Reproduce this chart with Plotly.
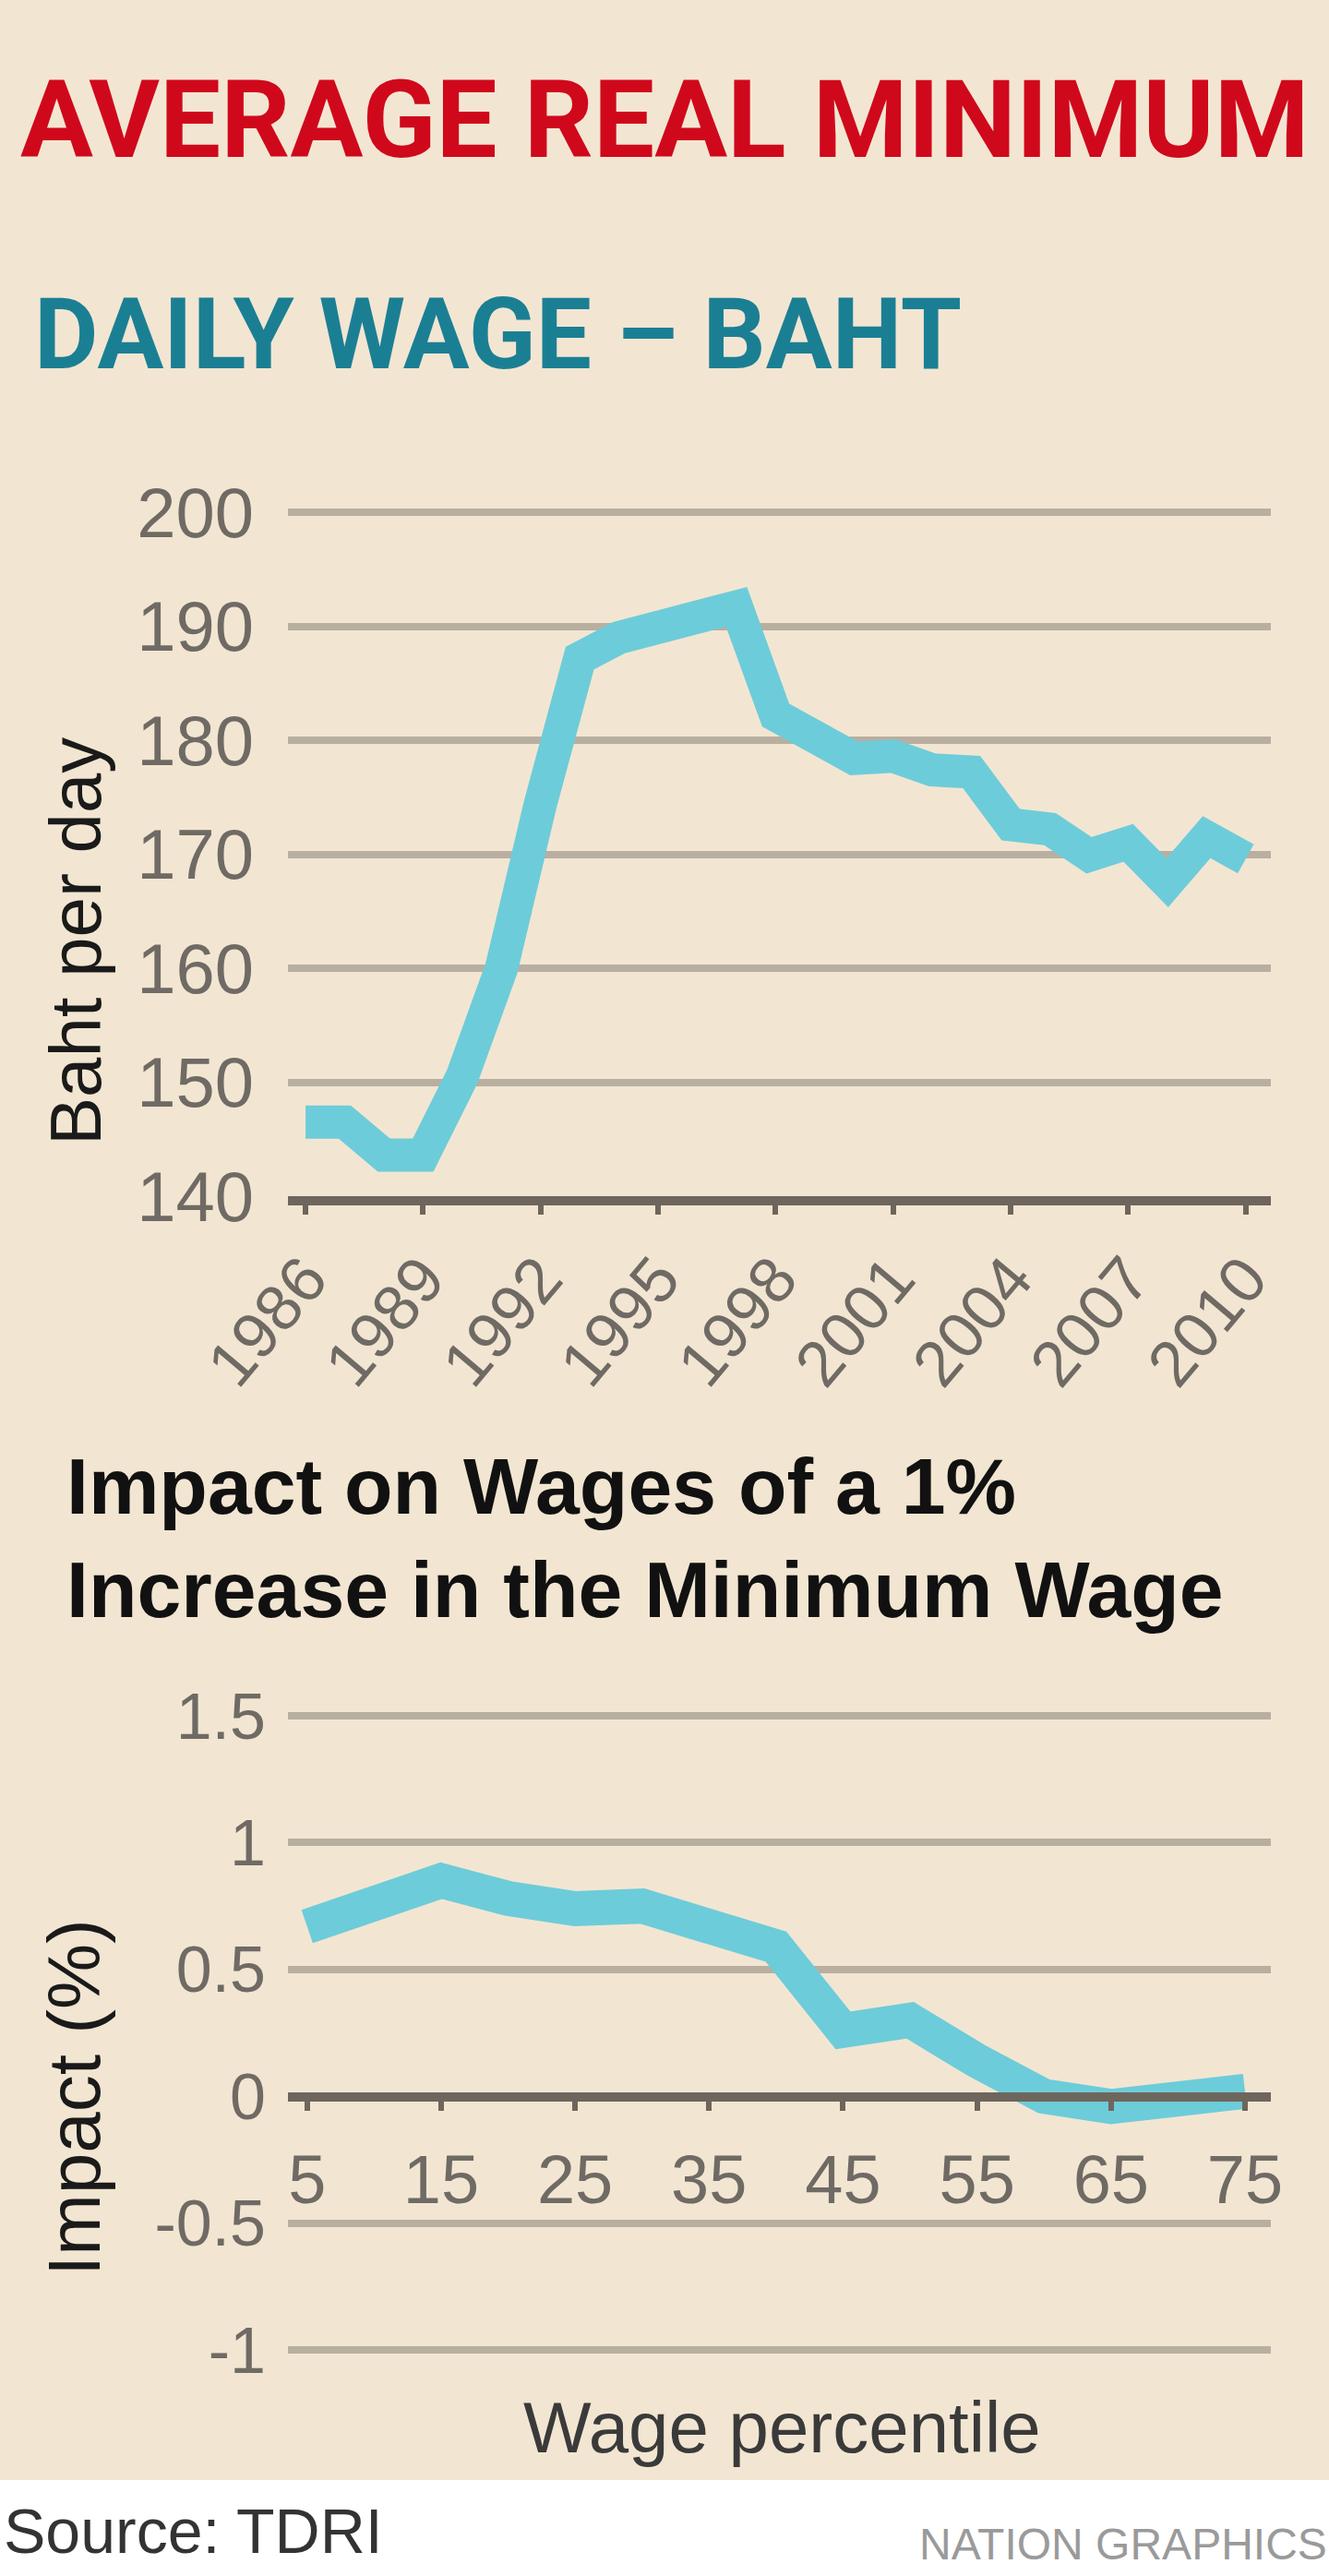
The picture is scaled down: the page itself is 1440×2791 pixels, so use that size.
import plotly.graph_objects as go

# ---------------- data ----------------
years = list(range(1986, 2011))
wage = [146.5, 146.5, 143.6, 143.6, 150.5, 160.0, 174.5, 187.2, 189.0, 190.0, 190.3, 191.7,
        182.2, 180.5, 178.4, 178.6, 177.4, 177.2, 172.6, 172.2, 169.9, 171.0, 167.5, 171.5, 169.6]
year_ticks = [1986, 1989, 1992, 1995, 1998, 2001, 2004, 2007, 2010]
wage_ticks = [140, 150, 160, 170, 180, 190, 200]

percentiles = [5, 10, 15, 20, 25, 30, 35, 40, 45, 50, 55, 60, 65, 70, 75]
impact = [0.67, 0.76, 0.85, 0.78, 0.74, 0.75, 0.67, 0.59, 0.26, 0.30, 0.14, 0.0, -0.04, -0.01, 0.02]
pct_ticks = [5, 15, 25, 35, 45, 55, 65, 75]
impact_ticks = [-1, -0.5, 0, 0.5, 1, 1.5]
impact_ticktext = ["-1", "-0.5", "0", "0.5", "1", "1.5"]

# ---------------- style ----------------
W, H = 1440, 2791
BEIGE = "#F2E6D2"
GRID = "#B8AFA1"
AXIS = "#6E665C"
LINE = "#6DCCD9"
LABEL = "#6f6a64"
TITLEFONT = "Roboto, Liberation Sans, Arial, sans-serif"
SANS = "Liberation Sans, Arial, sans-serif"


def py(px):
    return 1 - px / H


def pxx(px):
    return px / W


x_dom = [pxx(312), pxx(1377)]

fig = go.Figure()
fig.add_trace(go.Scatter(x=years, y=wage, mode="lines",
                         line=dict(color=LINE, width=36), xaxis="x", yaxis="y",
                         showlegend=False, hoverinfo="skip"))
fig.add_trace(go.Scatter(x=percentiles, y=impact, mode="lines",
                         line=dict(color=LINE, width=38), xaxis="x2", yaxis="y2",
                         showlegend=False, hoverinfo="skip"))

fig.update_layout(
    width=W, height=H,
    margin=dict(l=0, r=0, t=0, b=0, autoexpand=False),
    paper_bgcolor="white",
    plot_bgcolor="rgba(0,0,0,0)",
    showlegend=False,
    xaxis=dict(domain=x_dom, anchor="y", range=[1985.55, 2010.64],
               showgrid=False, zeroline=False, showline=True, linecolor=AXIS, linewidth=10,
               tickmode="array", tickvals=year_ticks, ticks="outside", ticklen=10,
               tickwidth=6, tickcolor=AXIS, tickangle=-50, automargin=False,
               tickfont=dict(family=SANS, size=70, color=LABEL)),
    yaxis=dict(domain=[py(1296), py(547.6)], anchor="x", range=[140, 200.6],
               showgrid=True, gridcolor=GRID, gridwidth=8, zeroline=False, showline=False,
               tickmode="array", tickvals=wage_ticks, ticks="", ticklabelstandoff=36,
               automargin=False,
               tickfont=dict(family=SANS, size=76, color=LABEL)),
    xaxis2=dict(domain=x_dom, anchor="free", position=py(2271.5), range=[3.57, 76.93],
                showgrid=False, zeroline=False, showline=True, linecolor=AXIS, linewidth=10,
                tickmode="array", tickvals=pct_ticks, ticks="outside", ticklen=10,
                tickwidth=6, tickcolor=AXIS, ticklabelstandoff=12, automargin=False,
                tickfont=dict(family=SANS, size=74, color=LABEL)),
    yaxis2=dict(domain=[py(2554.4), py(1850.8)], anchor="x2", range=[-1.03, 1.53],
                showgrid=True, gridcolor=GRID, gridwidth=8, zeroline=False, showline=False,
                tickmode="array", tickvals=impact_ticks, ticktext=impact_ticktext,
                ticks="", ticklabelstandoff=23, automargin=False,
                tickfont=dict(family=SANS, size=70, color=LABEL)),
    shapes=[dict(type="rect", xref="paper", yref="paper", x0=0, x1=1, y0=py(2687), y1=1,
                 fillcolor=BEIGE, line=dict(width=0), layer="below")],
)

ann = [
    dict(text="<b>AVERAGE REAL MINIMUM</b>", x=pxx(20), y=py(130), xanchor="left", yanchor="middle",
         font=dict(family=TITLEFONT, size=117.5, color="#D0081C")),
    dict(text="<b>DAILY WAGE – BAHT</b>", x=pxx(35), y=py(362), xanchor="left", yanchor="middle",
         font=dict(family=TITLEFONT, size=107, color="#1B7F94")),
    dict(text="Baht per day", x=pxx(82), y=py(1020), xanchor="center", yanchor="middle",
         textangle=-90, font=dict(family=SANS, size=78, color="#1a1a1a")),
    dict(text="<b>Impact on Wages of a 1%<br>Increase in the Minimum Wage</b>", x=pxx(70), y=py(1666),
         xanchor="left", yanchor="middle", align="left",
         font=dict(family=SANS, size=86, color="#111111")),
    dict(text="Impact (%)", x=pxx(80), y=py(2273), xanchor="center", yanchor="middle",
         textangle=-90, font=dict(family=SANS, size=80, color="#1a1a1a")),
    dict(text="Wage percentile", x=pxx(847), y=py(2630), xanchor="center", yanchor="middle",
         font=dict(family=SANS, size=78, color="#3a3a3a")),
    dict(text="Source: TDRI", x=pxx(2), y=py(2742), xanchor="left", yanchor="middle",
         font=dict(family=SANS, size=68, color="#333333")),
    dict(text="NATION GRAPHICS", x=pxx(1440), y=py(2756), xanchor="right", yanchor="middle",
         font=dict(family=SANS, size=48, color="#9a9a9a")),
]
for a in ann:
    a.update(xref="paper", yref="paper", showarrow=False)
fig.update_layout(annotations=ann)

fig.write_html("out.html")
